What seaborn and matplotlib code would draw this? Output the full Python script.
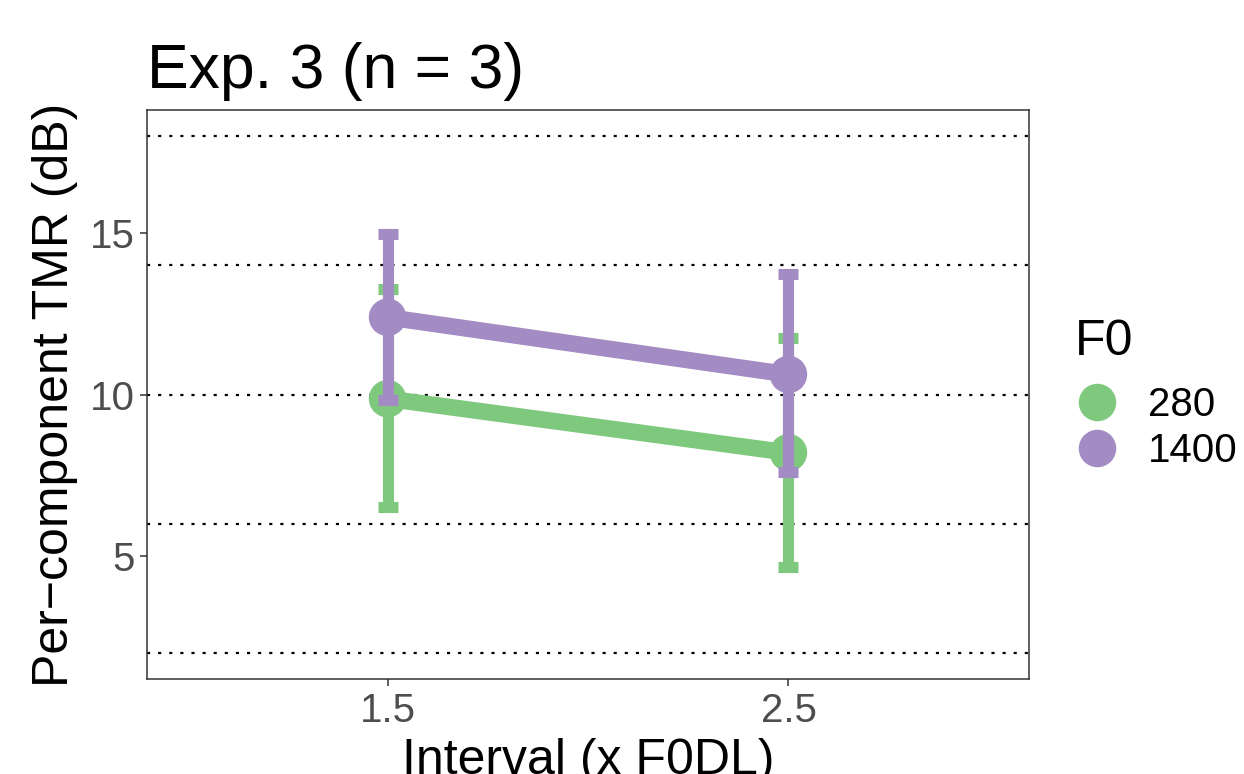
import numpy as np
import pandas as pd
import matplotlib
matplotlib.use("Agg")
import matplotlib.pyplot as plt
import seaborn as sns
from matplotlib.lines import Line2D

# ---- data ----
intervals = ["1.5", "2.5"]
f0_levels = ["280", "1400"]
tmr_280 = [9.87, 8.20]
tmr_280_lo = [6.52, 4.66]
tmr_280_hi = [13.26, 11.74]
tmr_1400 = [12.39, 10.62]
tmr_1400_lo = [9.84, 7.60]
tmr_1400_hi = [14.97, 13.73]
ref_lines = [2, 6, 10, 14, 18]
y_ticks = [5, 10, 15]
colors = ["#7FC97F", "#A38BC4"]

x_pos = list(range(len(intervals)))
df = pd.DataFrame({
    "x": x_pos * 2,
    "tmr": tmr_280 + tmr_1400,
    "lo": tmr_280_lo + tmr_1400_lo,
    "hi": tmr_280_hi + tmr_1400_hi,
    "F0": [f0_levels[0]] * 2 + [f0_levels[1]] * 2,
})
palette = dict(zip(f0_levels, colors))

sns.set_theme(style="white")
plt.rcParams['font.family'] = ['Liberation Sans', 'DejaVu Sans']

fig = plt.figure(figsize=(12.44, 7.74), dpi=100)
W, H = 1244, 774
ax = fig.add_axes([147 / W, 1 - 679 / H, (1029 - 147) / W, (679 - 110) / H])

for y in ref_lines:
    ax.axhline(y, color="black", lw=1.6, dashes=(1.4, 3.6), zorder=1)

sns.lineplot(data=df, x="x", y="tmr", hue="F0", palette=palette, ax=ax,
             lw=12, legend=False, zorder=2, solid_capstyle="butt")
sns.scatterplot(data=df, x="x", y="tmr", hue="F0", palette=palette, ax=ax,
                s=27 ** 2, linewidth=0, legend=False, zorder=3)
for lvl in f0_levels:
    sub = df[df["F0"] == lvl]
    ax.errorbar(sub["x"], sub["tmr"],
                yerr=[sub["tmr"] - sub["lo"], sub["hi"] - sub["tmr"]],
                fmt="none", ecolor=palette[lvl], elinewidth=8,
                capsize=7.5, capthick=8, zorder=4)

ax.set_xlim(-0.6, 1.6)
ax.set_ylim(1.2, 18.8)
ax.set_xticks(x_pos)
ax.set_xticklabels(intervals)
ax.set_yticks(y_ticks)
ax.tick_params(axis="both", which="both", length=5, width=1.1, color="#333333",
               labelsize=29, labelcolor="#4D4D4D", pad=4, left=True, bottom=True)
for sp in ax.spines.values():
    sp.set_color("#333333")
    sp.set_linewidth(1.1)
    sp.set_visible(True)

ax.set_xlabel("Interval (x F0DL)", fontsize=36, color="black", labelpad=6)
ax.set_ylabel("Per\u2212component TMR (dB)", fontsize=36, color="black", labelpad=8)
ax.set_title("Exp. 3 (n = 3)", fontsize=45, loc="left", pad=16, color="black")

# legend: title as separate text, entries as a legend
fig.text(1075 / W, 1 - 355 / H, "F0", fontsize=36, color="black",
         ha="left", va="baseline")
handles = [Line2D([0], [0], marker="o", linestyle="none", markersize=27,
                  markerfacecolor=c, markeredgewidth=0) for c in colors]
leg = ax.legend(handles, f0_levels, loc="upper left",
                bbox_to_anchor=(1073 / W, 1 - 386 / H), bbox_transform=fig.transFigure,
                frameon=False, fontsize=29, labelcolor="black",
                handletextpad=0.65, labelspacing=0.2, handlelength=1.2,
                borderpad=0, borderaxespad=0)

fig.savefig("out.png", dpi=100)
